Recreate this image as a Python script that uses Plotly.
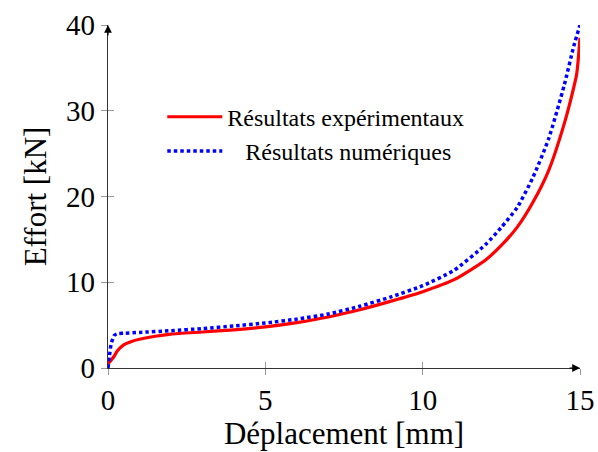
import plotly.graph_objects as go

# Experimental results (red)
x_exp = [0, 0.1, 0.2, 0.3, 0.5, 0.75, 1.0, 1.5, 2, 3, 4, 5, 6, 7, 8, 9, 10, 11, 12, 12.5, 13, 13.5, 14, 14.5, 14.8, 14.9, 15.0]
y_exp = [0.5, 0.9, 1.4, 2.0, 2.7, 3.1, 3.35, 3.7, 3.95, 4.2, 4.45, 4.8, 5.3, 5.95, 6.8, 7.8, 8.9, 10.3, 12.6, 14.3, 16.4, 19.3, 23.0, 28.5, 32.7, 34.4, 38.5]

# Numerical results (blue)
x_num = [0, 0.05, 0.1, 0.2, 0.3, 0.5, 1, 2, 3, 4, 5, 6, 7, 8, 9, 10, 11, 12, 12.5, 13, 13.5, 14, 14.5, 14.8, 15]
y_num = [0, 1.5, 2.8, 3.8, 4.0, 4.05, 4.15, 4.35, 4.6, 4.9, 5.25, 5.7, 6.3, 7.2, 8.3, 9.6, 11.4, 14.4, 16.4, 18.7, 22.2, 26.7, 33.0, 37.5, 40.0]

x_ticks = [0, 5, 10, 15]
y_ticks = [0, 10, 20, 30, 40]

FONT = "Liberation Serif"

fig = go.Figure()
fig.add_trace(go.Scatter(x=x_exp, y=y_exp, mode="lines", name="Résultats expérimentaux",
                         line=dict(color="red", width=3.2, shape="spline", smoothing=0.6)))
fig.add_trace(go.Scatter(x=x_num, y=y_num, mode="lines", name="\u00a0\u00a0\u00a0Résultats numériques",
                         line=dict(color="blue", width=3.5, dash="3.5px,3px", shape="spline", smoothing=0.6)))
# helper trace for the inner half of the crossing ticks
fig.add_trace(go.Scatter(x=[None], y=[None], xaxis="x2", yaxis="y2", showlegend=False, hoverinfo="skip"))

axis_common = dict(showgrid=False, zeroline=False, ticklen=6, tickcolor="#999999", tickwidth=1,
                   automargin=False)
fig.update_layout(
    width=598, height=452,
    margin=dict(l=108, r=18, t=25, b=84),
    paper_bgcolor="white", plot_bgcolor="white",
    font=dict(family=FONT, size=26, color="black"),
    showlegend=True,
    legend=dict(x=0.115, y=0.797, xanchor="left", yanchor="top", bgcolor="rgba(0,0,0,0)",
                font=dict(family=FONT, size=24), tracegroupgap=0, itemwidth=55),
    xaxis=dict(range=[0, 15], tickvals=x_ticks, ticks="outside", showline=True, linecolor="#333333",
               linewidth=1.2, tickfont=dict(size=29),
               title=dict(text="Déplacement [mm]", standoff=4), **axis_common),
    yaxis=dict(range=[0, 40], tickvals=y_ticks, ticks="outside", showline=True, linecolor="#333333",
               linewidth=1.2, tickfont=dict(size=29),
               title=dict(text="Effort [kN]", standoff=10), **axis_common),
    xaxis2=dict(range=[0, 15], overlaying="x", anchor="y", side="bottom", tickvals=x_ticks, ticks="inside",
                showticklabels=False, showline=False, **axis_common),
    yaxis2=dict(range=[0, 40], overlaying="y", anchor="x", side="left", tickvals=y_ticks, ticks="inside",
                showticklabels=False, showline=False, **axis_common),
)

# arrow heads at the end of the axes
fig.add_annotation(x=15, y=0, xref="x", yref="y", ax=-12, ay=0, axref="pixel", ayref="pixel",
                   text="", showarrow=True, arrowhead=2, arrowsize=1.3, arrowwidth=1.2, arrowcolor="black")
fig.add_annotation(x=0, y=40, xref="x", yref="y", ax=0, ay=12, axref="pixel", ayref="pixel",
                   text="", showarrow=True, arrowhead=2, arrowsize=1.3, arrowwidth=1.2, arrowcolor="black")

# remove the default page margin so the figure fills the window exactly
fig.write_html("out.html", config={"displayModeBar": False},
               post_script="document.body.style.margin='0';document.body.style.overflow='hidden';")
